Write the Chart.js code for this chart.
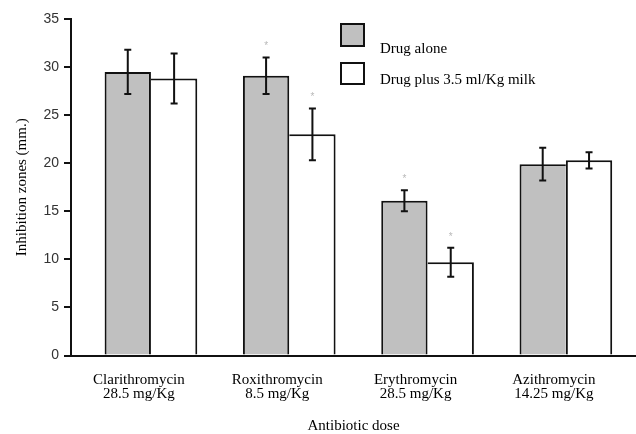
<!DOCTYPE html>
<html>
<head>
<meta charset="utf-8">
<script src="https://cdn.jsdelivr.net/npm/chart.js@4"></script>
<style>
  html, body { margin: 0; padding: 0; background: #fff; }
  #wrap { width: 636px; height: 434px; }
</style>
</head>
<body>
<div id="wrap"><canvas id="chart" width="636" height="434"></canvas></div>
<script>
// --- data ---
const categories = [
  ['Clarithromycin', '28.5 mg/Kg'],
  ['Roxithromycin', '8.5 mg/Kg'],
  ['Erythromycin', '28.5 mg/Kg'],
  ['Azithromycin', '14.25 mg/Kg']
];
const seriesNames = ['Drug alone', 'Drug plus 3.5 ml/Kg milk'];
const drugAlone    = [29.5, 29.1, 16.1, 19.9];
const drugAloneErr = [2.3, 1.9, 1.1, 1.7];
const drugMilk     = [28.8, 23.0, 9.7, 20.3];
const drugMilkErr  = [2.6, 2.7, 1.5, 0.85];
// faint asterisks above some bars
const drugAloneSig = [false, true, true, false];
const drugMilkSig  = [false, true, true, false];
const yTicks = [0, 5, 10, 15, 20, 25, 30, 35];

const serif = "'Liberation Serif', 'Times New Roman', serif";
const sans  = "'Liberation Sans', Arial, sans-serif";

const toPoints = vals => vals.map((v, i) => ({ x: i, y: v }));

// the two bars of a pair share one edge line: the shorter bar drops its inner edge
const milkTaller = i => drugMilk[i] > drugAlone[i];
const edgeAlone = c => ({ top: 2, left: 2, right: milkTaller(c.dataIndex) ? 0 : 2, bottom: 0 });
const edgeMilk  = c => ({ top: 2, right: 2, left: milkTaller(c.dataIndex) ? 2 : 0, bottom: 0 });

// error bars + asterisks
const errorBarPlugin = {
  id: 'errorBars',
  afterDatasetsDraw(chart) {
    const ctx = chart.ctx;
    const yScale = chart.scales.y;
    chart.data.datasets.forEach((ds, di) => {
      const meta = chart.getDatasetMeta(di);
      meta.data.forEach((bar, i) => {
        const v = ds.data[i].y;
        const e = ds.errors[i];
        const x = bar.x;
        const yTop = yScale.getPixelForValue(v + e);
        const yBot = yScale.getPixelForValue(v - e);
        ctx.save();
        ctx.strokeStyle = '#111';
        ctx.lineWidth = 2;
        ctx.beginPath();
        ctx.moveTo(x, yTop); ctx.lineTo(x, yBot);
        ctx.moveTo(x - 3.5, yTop); ctx.lineTo(x + 3.5, yTop);
        ctx.moveTo(x - 3.5, yBot); ctx.lineTo(x + 3.5, yBot);
        ctx.stroke();
        if (ds.signif[i]) {
          ctx.fillStyle = '#b8b8b8';
          ctx.font = '10px ' + sans;
          ctx.textAlign = 'center';
          ctx.textBaseline = 'middle';
          ctx.fillText('*', x, yTop - 11);
        }
        ctx.restore();
      });
    });
  }
};

// legend drawn in the top right of the plot
const boxLegendPlugin = {
  id: 'boxLegend',
  afterDraw(chart) {
    const ctx = chart.ctx;
    const rows = [{ y: 24, h: 22, textY: 49 }, { y: 63, h: 21, textY: 80 }];
    chart.data.datasets.forEach((ds, di) => {
      const r = rows[di];
      ctx.save();
      ctx.fillStyle = ds.backgroundColor;
      ctx.strokeStyle = '#111';
      ctx.lineWidth = 2;
      ctx.fillRect(341, r.y, 23, r.h);
      ctx.strokeRect(341, r.y, 23, r.h);
      ctx.fillStyle = '#000';
      ctx.font = '15px ' + serif;
      ctx.textAlign = 'left';
      ctx.textBaseline = 'middle';
      ctx.fillText(ds.label, 380, r.textY);
      ctx.restore();
    });
  }
};

new Chart(document.getElementById('chart'), {
  type: 'bar',
  data: {
    datasets: [
      {
        label: seriesNames[0],
        data: toPoints(drugAlone),
        errors: drugAloneErr,
        signif: drugAloneSig,
        backgroundColor: '#c0c0c0',
        borderColor: '#111',
        borderWidth: edgeAlone,
        borderSkipped: 'bottom',
        categoryPercentage: 0.67,
        barPercentage: 1.0
      },
      {
        label: seriesNames[1],
        data: toPoints(drugMilk),
        errors: drugMilkErr,
        signif: drugMilkSig,
        backgroundColor: '#ffffff',
        borderColor: '#111',
        borderWidth: edgeMilk,
        borderSkipped: 'bottom',
        categoryPercentage: 0.67,
        barPercentage: 1.0
      }
    ]
  },
  options: {
    responsive: false,
    animation: false,
    layout: { padding: { top: 19, right: 0, bottom: 0, left: 0 } },
    plugins: {
      legend: { display: false },
      tooltip: { enabled: false }
    },
    scales: {
      x: {
        type: 'linear',
        offset: false,
        min: -0.578,
        max: 3.507,
        afterBuildTicks: axis => { axis.ticks = categories.map((c, i) => ({ value: i })); },
        afterFit: scale => { scale.height = 78.5; },
        grid: { display: false, offset: false },
        border: { display: true, color: '#111', width: 2 },
        ticks: {
          autoSkip: false,
          maxRotation: 0,
          padding: 9,
          labelOffset: -12,
          color: '#000',
          font: { family: serif, size: 15, lineHeight: 0.95 },
          callback: v => categories[v] || ''
        },
        title: {
          display: true,
          text: 'Antibiotic dose',
          color: '#000',
          font: { family: serif, size: 15, lineHeight: 1.0 },
          padding: { top: 0, bottom: 0 }
        }
      },
      y: {
        min: 0,
        max: 35,
        afterBuildTicks: axis => { axis.ticks = yTicks.map(v => ({ value: v })); },
        afterFit: scale => { scale.width = 71; },
        grid: { drawOnChartArea: false, color: '#111', lineWidth: 2, tickLength: 7 },
        border: { display: true, color: '#111', width: 2 },
        ticks: {
          padding: 5,
          color: '#333',
          font: { family: sans, size: 14 }
        },
        title: {
          display: true,
          text: 'Inhibition zones (mm.)',
          color: '#000',
          font: { family: serif, size: 15 },
          padding: { top: 13, bottom: 0 }
        }
      }
    }
  },
  plugins: [errorBarPlugin, boxLegendPlugin]
});
</script>
</body>
</html>
